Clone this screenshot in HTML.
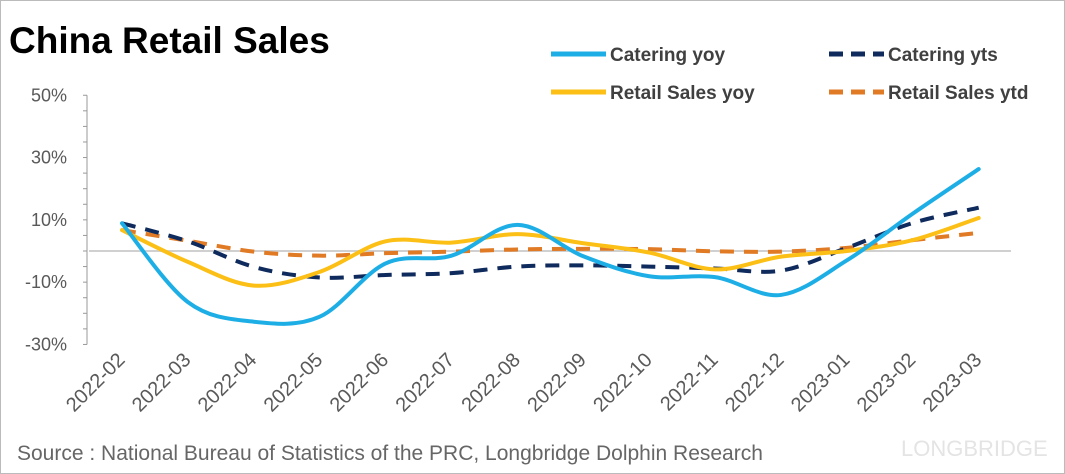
<!DOCTYPE html>
<html><head><meta charset="utf-8"><style>
body{margin:0;background:#fff}
#wrap{position:relative;width:1063px;height:472px;border:1px solid #bbb;overflow:hidden;font-family:"Liberation Sans",sans-serif}
</style></head><body>
<div id="wrap">
<svg id="chart" width="1063" height="472"></svg>
</div>
<script>
const categories=["2022-02","2022-03","2022-04","2022-05","2022-06","2022-07","2022-08","2022-09","2022-10","2022-11","2022-12","2023-01","2023-02","2023-03"];
const cateringYoy=[8.9,-16.4,-22.7,-21.1,-4,-1.5,8.4,-1.7,-8.1,-8.4,-14.1,-3,12,26.3];
const cateringYtd=[8.9,3.1,-5.1,-8.5,-7.7,-7.1,-5.0,-4.6,-5.0,-5.6,-6.3,1,9,13.9];
const retailYoy=[6.7,-3.5,-11.1,-6.7,3.1,2.7,5.4,2.5,-0.5,-5.9,-1.8,0,3.5,10.6];
const retailYtd=[6.7,3.3,-0.2,-1.5,-0.7,-0.2,0.5,0.7,0.6,-0.1,-0.2,1,3.5,5.8];
const yTicks=[50,30,10,-10,-30];
const yLabels=["50%","30%","10%","-10%","-30%"];
const NS="http://www.w3.org/2000/svg";
const svg=document.getElementById('chart');
const X=i=>121+i*65.9;
const Y=v=>250-v*3.115;
function mk(t,a,p){const e=document.createElementNS(NS,t);for(const k in a)e.setAttribute(k,a[k]);(p||svg).appendChild(e);return e;}
let t=mk('text',{x:8,y:52,'font-size':37,'font-weight':'bold',fill:'#000'});t.textContent='China Retail Sales';

let z=mk('line',{x1:88,x2:1010,y1:Y(0),y2:Y(0),stroke:'#d0d0d0','stroke-width':2});

let ax=mk('line',{x1:86,x2:86,y1:Y(50),y2:Y(-30),stroke:'#999','stroke-width':1});

for(let v=50;v>=-30;v-=5){let tk=mk('line',{x1:82,x2:86,y1:Y(v),y2:Y(v),stroke:'#999'});
}
yTicks.forEach((v,i)=>{let l=mk('text',{x:66,y:Y(v)+6,'font-size':18,fill:'#595959','text-anchor':'end'});l.textContent=yLabels[i];
});
categories.forEach((c,i)=>{let l=mk('text',{x:X(i)+4,y:360,'font-size':20,fill:'#595959','text-anchor':'end',transform:`rotate(-45 ${X(i)+4} 360)`});l.textContent=c;
});
function path(arr){const p=arr.map((v,i)=>[X(i),Y(v)]);let d=`M${p[0][0]},${p[0][1]}`;
for(let i=0;i<p.length-1;i++){const p0=p[i-1]||p[i],p1=p[i],p2=p[i+1],p3=p[i+2]||p2;
d+=` C${p1[0]+(p2[0]-p0[0])/6},${p1[1]+(p2[1]-p0[1])/6} ${p2[0]-(p3[0]-p1[0])/6},${p2[1]-(p3[1]-p1[1])/6} ${p2[0]},${p2[1]}`;}return d;}
const series=[[retailYtd,'#e07a24',true,'retail-sales-ytd-line'],[cateringYtd,'#0f2a5c',true,'catering-ytd-line'],[retailYoy,'#fbbf16',false,'retail-sales-yoy-line'],[cateringYoy,'#1eaee6',false,'catering-yoy-line']];
series.forEach(s=>{let e=mk('path',{d:path(s[0]),fill:'none',stroke:s[1],'stroke-width':4,'stroke-dasharray':s[2]?'14 10':'none','stroke-linecap':s[2]?'butt':'round'});
});
const legend=[['Catering yoy','#1eaee6',false,550,53],['Catering yts','#0f2a5c',true,828,53],['Retail Sales yoy','#fbbf16',false,550,91],['Retail Sales ytd','#e07a24',true,828,91]];
legend.forEach(l=>{let g=mk('g',{});
mk('line',{x1:l[3],x2:l[3]+55,y1:l[4],y2:l[4],stroke:l[1],'stroke-width':5,'stroke-dasharray':l[2]?'14 8':'none'},g);
let tx=mk('text',{x:l[3]+59,y:l[4]+7,'font-size':19,'font-weight':'bold',fill:'#404040'},g);tx.textContent=l[0];});
let s=mk('text',{x:16,y:459,'font-size':21,fill:'#666'});s.textContent='Source : National Bureau of Statistics of the PRC, Longbridge Dolphin Research';

let w=mk('text',{x:900,y:455,'font-size':22,fill:'#e4e4e4'});w.textContent='LONGBRIDGE';

</script>
</body></html>
